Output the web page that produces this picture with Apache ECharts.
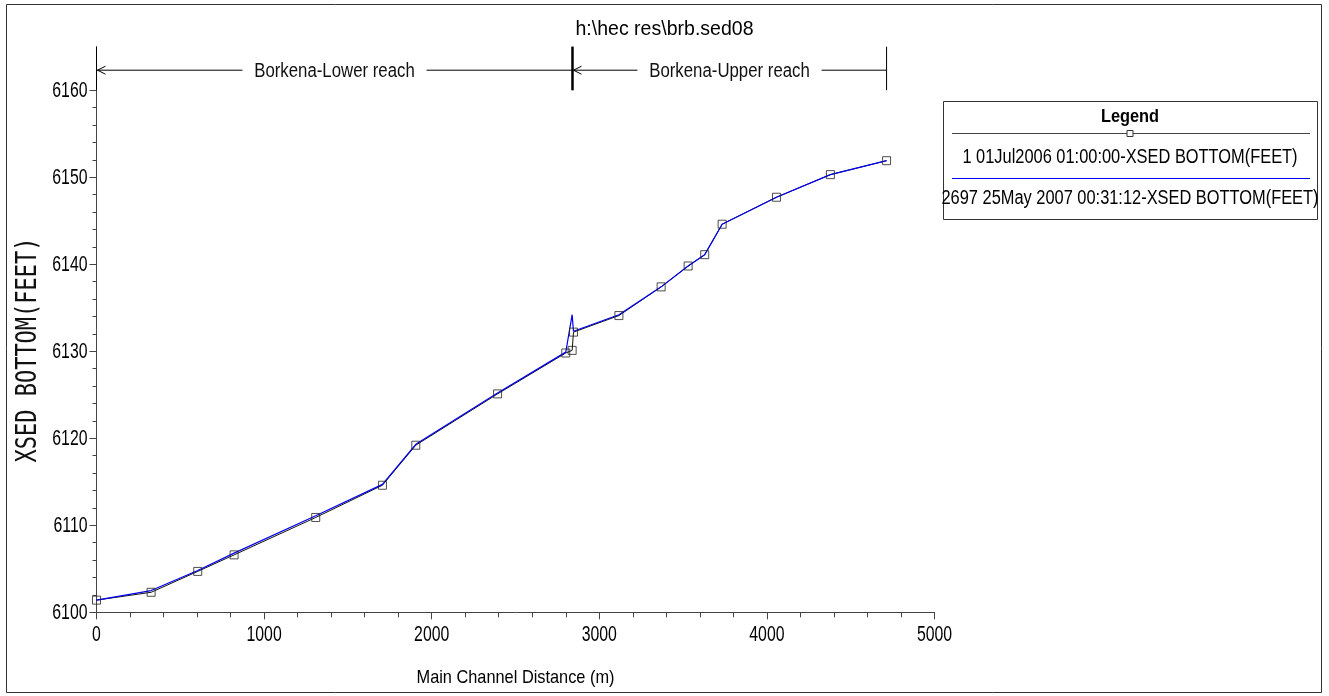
<!DOCTYPE html>
<html>
<head>
<meta charset="utf-8">
<title>h:\hec res\brb.sed08</title>
<script src="https://cdn.jsdelivr.net/npm/echarts@6/dist/echarts.min.js"></script>
<style>
  html, body { margin: 0; padding: 0; background: #fff; }
  #chart { width: 1329px; height: 696px; }
</style>
</head>
<body>
<div id="chart"></div>
<script>
// Main channel distance of each cross section (m)
const distance = [0, 326, 604, 821, 1308, 1706, 1905, 2393, 2800, 2838, 2846, 3117, 3369, 3530, 3629, 3733, 4057, 4379, 4714];
// Bed elevation at the first output time (ft)
const bedInitial = [6101.4, 6102.3, 6104.7, 6106.6, 6110.9, 6114.6, 6119.2, 6125.1, 6129.8, 6130.1, 6132.2, 6134.1, 6137.4, 6139.8, 6141.1, 6144.6, 6147.7, 6150.3, 6151.9];
// Bed elevation at the last output time (ft)
const bedFinal = [6101.4, 6102.5, 6104.8, 6106.8, 6111.1, 6114.7, 6119.3, 6125.2, 6129.9, 6134.2, 6132.3, 6134.2, 6137.4, 6139.8, 6141.1, 6144.6, 6147.7, 6150.3, 6151.9];
const seriesNames = ['1 01Jul2006 01:00:00-XSED BOTTOM(FEET)', '2697 25May 2007 00:31:12-XSED BOTTOM(FEET)'];

// Axis ticks
const xMajorTicks = [0, 1000, 2000, 3000, 4000, 5000];
const xMinorTicks = [200, 400, 600, 800, 1200, 1400, 1600, 1800, 2200, 2400, 2600, 2800, 3200, 3400, 3600, 3800, 4200, 4400, 4600, 4800];
const yMajorTicks = [6100, 6110, 6120, 6130, 6140, 6150, 6160];
const yMinorTicks = [6102, 6104, 6106, 6108, 6112, 6114, 6116, 6118, 6122, 6124, 6126, 6128, 6132, 6134, 6136, 6138, 6142, 6144, 6146, 6148, 6152, 6154, 6156, 6158];

// River reaches marked above the profile (m)
const reachNames = ['Borkena-Lower reach', 'Borkena-Upper reach'];
const reachStart = [0, 2840];
const reachEnd = [2840, 4714];

const FONT_FAMILY = '"Liberation Sans", Arial, sans-serif';
const AXIS_COLOR = '#444';
const BLUE = '#0000f0';
const X_MIN = 0, X_MAX = 5000, Y_MIN = 6100, Y_MAX = 6165;

// elevations (ft) spanned by the reach brackets
const BRACKET_TOP = 6165;
const BRACKET_BOTTOM = 6160;
const BRACKET_ARROW = 6162.3;

const chart = echarts.init(document.getElementById('chart'), null, { renderer: 'canvas' });

// condensed text: regular face squeezed horizontally around its anchor
function narrowText(x, y, text, size, squeeze, align, weight) {
  return {
    type: 'text', x: x, y: y, scaleX: squeeze, silent: true,
    style: { text: text, font: (weight ? weight + ' ' : '') + size + 'px ' + FONT_FAMILY, fill: '#000', align: align, verticalAlign: 'middle' }
  };
}

function renderReach(params, api) {
  const from = api.value(0);
  const to = api.value(1);
  const a0 = api.coord([from, BRACKET_ARROW]);
  const a1 = api.coord([to, BRACKET_ARROW]);
  const t0 = api.coord([from, BRACKET_TOP]);
  const b0 = api.coord([from, BRACKET_BOTTOM]);
  const t1 = api.coord([to, BRACKET_TOP]);
  const b1 = api.coord([to, BRACKET_BOTTOM]);
  const inner0 = reachEnd.indexOf(from) >= 0;
  const inner1 = reachStart.indexOf(to) >= 0;
  return {
    type: 'group',
    children: [
      { type: 'line', shape: { x1: a0[0], y1: a0[1], x2: a1[0], y2: a1[1] }, style: { stroke: '#000', lineWidth: 1 } },
      { type: 'polyline', shape: { points: [[a0[0] + 9, a0[1] - 4], [a0[0] + 1, a0[1]], [a0[0] + 9, a0[1] + 4]] }, style: { stroke: '#000', fill: null, lineWidth: 1 } },
      { type: 'line', shape: { x1: t0[0], y1: t0[1], x2: b0[0], y2: b0[1] }, style: { stroke: '#000', lineWidth: inner0 ? 2 : 1 } },
      { type: 'line', shape: { x1: t1[0], y1: t1[1], x2: b1[0], y2: b1[1] }, style: { stroke: '#000', lineWidth: inner1 ? 2 : 1 } },
      {
        type: 'text',
        x: (a0[0] + a1[0]) / 2,
        y: a0[1] + 1,
        scaleX: 0.84,
        style: {
          text: reachNames[params.dataIndex],
          font: '20px ' + FONT_FAMILY,
          fill: '#111',
          align: 'center',
          verticalAlign: 'middle',
          backgroundColor: '#fff',
          padding: [2, 14]
        }
      }
    ]
  };
}

// Legend: a boxed table with a sample line above each entry
const LEG_L = 943, LEG_R = 1317, LEG_T = 101, LEG_B = 219;
const LEG_C = (LEG_L + LEG_R) / 2;
const legendGraphic = {
  type: 'group',
  children: [
    { type: 'rect', shape: { x: LEG_L + 0.5, y: LEG_T + 0.5, width: LEG_R - LEG_L, height: LEG_B - LEG_T }, style: { fill: '#fff', stroke: '#333', lineWidth: 1 } },
    narrowText(LEG_C, LEG_T + 16, 'Legend', 19, 0.86, 'center', 'bold'),
    { type: 'line', shape: { x1: LEG_L + 9, y1: LEG_T + 32.5, x2: LEG_R - 7, y2: LEG_T + 32.5 }, style: { stroke: '#444', lineWidth: 1 } },
    { type: 'rect', shape: { x: LEG_C - 3, y: LEG_T + 29.5, width: 6, height: 6 }, style: { fill: '#fff', stroke: '#333', lineWidth: 1 } },
    narrowText(LEG_C, LEG_T + 56, seriesNames[0], 20, 0.82, 'center'),
    { type: 'line', shape: { x1: LEG_L + 9, y1: LEG_T + 77.5, x2: LEG_R - 7, y2: LEG_T + 77.5 }, style: { stroke: BLUE, lineWidth: 1 } },
    narrowText(LEG_C, LEG_T + 97, seriesNames[1], 20, 0.82, 'center')
  ]
};

const baseGraphic = [
  { type: 'rect', shape: { x: 6.5, y: 4.5, width: 1315, height: 688 }, style: { fill: 'none', stroke: '#333', lineWidth: 1 }, z: 0, silent: true },
  narrowText(664.5, 29, 'h:\\hec res\\brb.sed08', 21, 0.93, 'center'),
  {
    type: 'text', x: 29, y: 350, rotation: Math.PI / 2, scaleY: 1.3, silent: true,
    style: { text: 'XSED BOTTOM(FEET)', font: '22px "DejaVu Sans Mono", monospace', fill: '#111', align: 'center', verticalAlign: 'middle' }
  },
  legendGraphic
];

const option = {
  backgroundColor: '#fff',
  animation: false,
  grid: { left: 96.5, right: 394.5, top: 46.7, bottom: 83.7, containLabel: false },
  xAxis: [
    {
      type: 'value', min: X_MIN, max: X_MAX, interval: 1000,
      axisLine: { show: true, lineStyle: { color: AXIS_COLOR, width: 1 } },
      axisTick: { show: true, inside: false, length: 7, lineStyle: { color: AXIS_COLOR }, customValues: xMajorTicks },
      axisLabel: { show: false },
      splitLine: { show: false }
    },
    {
      type: 'value', min: X_MIN, max: X_MAX, interval: 1000, position: 'bottom',
      axisLine: { show: false },
      axisTick: { show: true, length: 5, lineStyle: { color: AXIS_COLOR }, customValues: xMinorTicks },
      axisLabel: { show: false },
      splitLine: { show: false }
    }
  ],
  yAxis: [
    {
      type: 'value', min: Y_MIN, max: Y_MAX, interval: 10, position: 'left',
      axisLine: { show: true, lineStyle: { color: AXIS_COLOR, width: 1 } },
      axisTick: { show: true, length: 7, lineStyle: { color: AXIS_COLOR }, customValues: yMajorTicks },
      axisLabel: { show: false },
      splitLine: { show: false }
    },
    {
      type: 'value', min: Y_MIN, max: Y_MAX, interval: 10, position: 'left', offset: 0,
      axisLine: { show: false },
      axisTick: { show: true, length: 4, lineStyle: { color: AXIS_COLOR }, customValues: yMinorTicks },
      axisLabel: { show: false },
      splitLine: { show: false }
    }
  ],
  graphic: baseGraphic,
  series: [
    {
      name: seriesNames[0], type: 'line', xAxisIndex: 0, yAxisIndex: 0, z: 2,
      data: distance.map((d, i) => [d, bedInitial[i]]),
      showSymbol: false, symbol: 'none',
      lineStyle: { color: '#111', width: 1 },
      itemStyle: { color: '#111' }
    },
    {
      name: seriesNames[1], type: 'line', xAxisIndex: 0, yAxisIndex: 0, z: 3,
      data: distance.map((d, i) => [d, bedFinal[i]]),
      showSymbol: false, symbol: 'none',
      lineStyle: { color: BLUE, width: 1.2 },
      itemStyle: { color: BLUE }
    },
    {
      // square markers of the first profile, kept above both lines
      name: seriesNames[0] + ' markers', type: 'scatter', xAxisIndex: 0, yAxisIndex: 0, z: 4,
      data: distance.map((d, i) => [d, bedInitial[i]]),
      symbol: 'rect', symbolSize: 8,
      itemStyle: { color: 'rgba(255,255,255,0)', borderColor: '#222', borderWidth: 1 }
    },
    {
      type: 'custom', coordinateSystem: 'cartesian2d', xAxisIndex: 0, yAxisIndex: 0, z: 5,
      clip: false, silent: true,
      encode: { x: [0, 1] },
      data: reachStart.map((s, i) => [s, reachEnd[i]]),
      renderItem: renderReach
    }
  ]
};

chart.setOption(option);

// Tick labels and the x-axis title, placed through the axes' own scales
const toPx = v => chart.convertToPixel({ xAxisIndex: 0, yAxisIndex: 0 }, v);
const labelGraphic = [];
yMajorTicks.forEach(v => {
  const p = toPx([X_MIN, v]);
  labelGraphic.push(narrowText(p[0] - 9, p[1] + 0.5, String(v), 22, 0.72, 'right'));
});
xMajorTicks.forEach(v => {
  const p = toPx([v, Y_MIN]);
  labelGraphic.push(narrowText(p[0], p[1] + 23, String(v), 22, 0.72, 'center'));
});
const xMid = toPx([(X_MIN + X_MAX) / 2, Y_MIN]);
labelGraphic.push(narrowText(xMid[0], xMid[1] + 65, 'Main Channel Distance (m)', 19, 0.86, 'center'));

chart.setOption({ graphic: baseGraphic.concat(labelGraphic) });
</script>
</body>
</html>
